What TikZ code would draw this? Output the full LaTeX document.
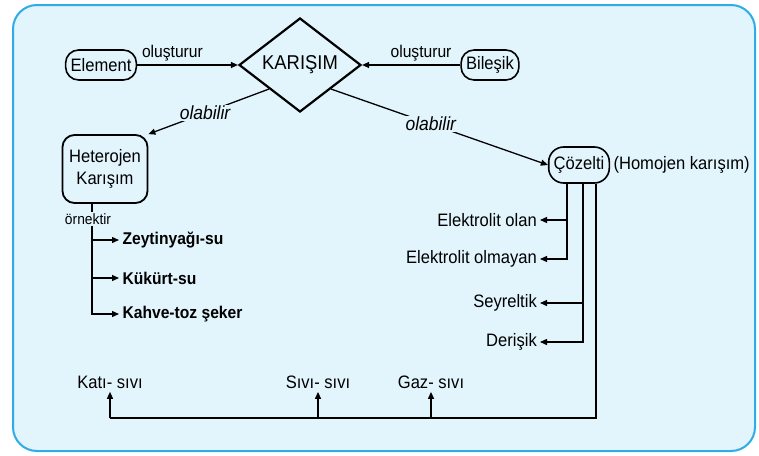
\documentclass[tikz,border=0pt]{standalone}
\usepackage{fontspec}
\setmainfont{Liberation Sans}[FakeStretch=0.92]
\usetikzlibrary{shapes.geometric,arrows.meta}
\definecolor{bgblue}{RGB}{226,244,252}
\definecolor{frameblue}{RGB}{45,172,230}

\begin{document}
\begin{tikzpicture}[x=1pt,y=-1pt,
    every node/.style={font=\fontsize{18}{22}\selectfont},
    pill/.style={draw,line width=1.6pt,rounded corners=13pt,minimum height=30pt,inner xsep=5pt},
    arr/.style={line width=1.3pt,-{Triangle[length=7pt,width=6pt]}},
    lbl/.style={fill=bgblue,inner sep=1pt},
    itl/.style={font=\fontsize{19}{22}\selectfont\itshape},
    small/.style={font=\fontsize{17}{20}\selectfont}]

    \useasboundingbox (0,0) rectangle (759,455);
    \draw[frameblue,line width=2pt,fill=bgblue,rounded corners=24pt] (13,5) rectangle (755,451);

    \node[pill] (elem) at (101,65) {Element};
    \node[draw,diamond,line width=2.2pt,inner sep=0pt,minimum width=122pt,minimum height=94pt,
          font=\fontsize{20}{24}\selectfont] (kar) at (300,65) {KARIŞIM};
    \node[pill] (bil) at (490,65) {Bileşik};
    \node[draw,line width=1.8pt,rounded corners=12pt,align=center,minimum width=85pt,
          minimum height=68pt] (het) at (105,169) {Heterojen\\Karışım};
    \node[pill,minimum height=36pt,rounded corners=15pt] (coz) at (579,165) {Çözelti};
    \node[anchor=west] (hom) at (610,165) {(Homojen karışım)};

    \draw[arr] (elem) -- node[pos=0.35,above,small] {oluşturur} (kar);
    \draw[arr] (bil) -- node[pos=0.4,above,small] {oluşturur} (kar);
    \draw[arr] (kar.south west) -- node[lbl,itl,pos=0.53] {olabilir} (het.north east);
    \draw[arr] (kar.south east) -- node[lbl,itl,pos=0.46] {olabilir} (coz.west);

    %ornekler
    \foreach \n/\y/\t in {z/240/Zeytinyağı-su,k/278/Kükürt-su,c/314/Kahve-toz şeker} {
        \node[anchor=west,font=\fontsize{17}{20}\selectfont\bfseries] (\n) at (119,\y) {\t};
        \draw[arr] ([xshift=-13pt]het.south) |- (\n.west);
    }
    \node[lbl,font=\fontsize{15}{18}\selectfont] (orn) at (88,219) {örnektir};

    %cozelti turleri
    \foreach \n/\y/\t/\s in {eo/220/Elektrolit olan/-12,em/259/Elektrolit olmayan/-12,
                             sey/303/Seyreltik/4,der/342/Derişik/4} {
        \node[anchor=east,inner xsep=3pt] (\n) at (540,\y) {\t};
        \draw[arr] ([xshift=\s pt]coz.south) |- (\n.east);
    }

    %sivi karisimlar
    \coordinate (bline) at (0,418);
    \foreach \n/\x/\t in {kat/110/Katı- sıvı,siv/318/Sıvı- sıvı,gaz/431/Gaz- sıvı}
        \node (\n) at (\x,382) {\t};
    \draw[line width=1.3pt] ([xshift=17pt]coz.south) |- (kat |- bline);
    \foreach \n in {kat,siv,gaz}
        \draw[arr] (\n |- bline) -- (\n.south);

\end{tikzpicture}
\end{document}
